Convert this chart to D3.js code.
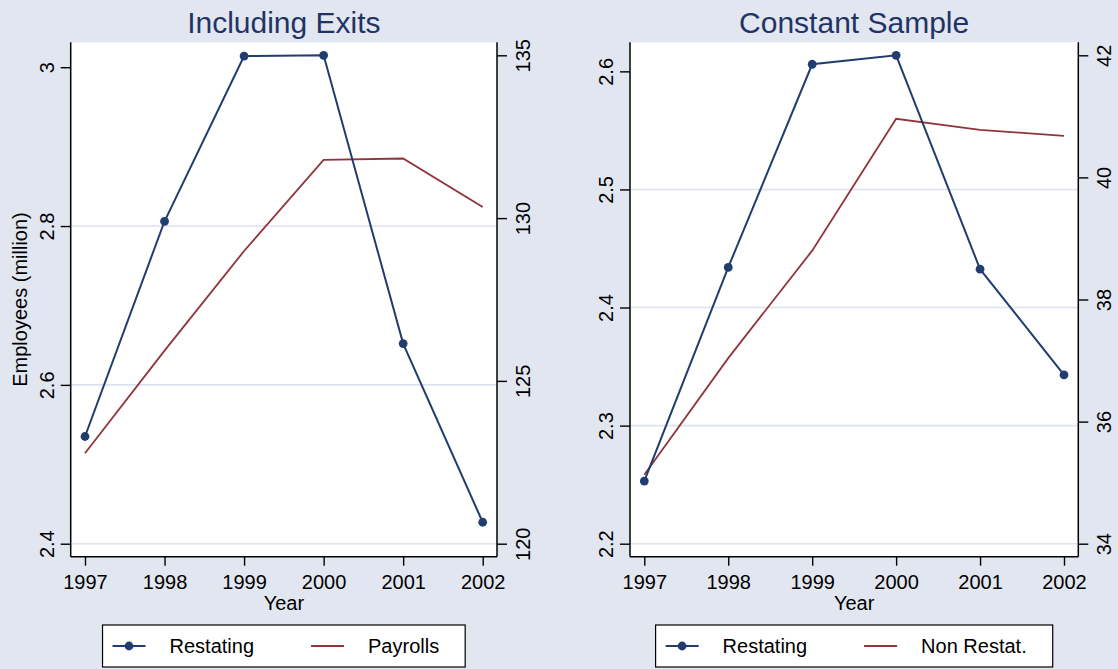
<!DOCTYPE html>
<html>
<head>
<meta charset="utf-8">
<script src="https://cdn.jsdelivr.net/npm/d3@7"></script>
<style>
  html, body { margin: 0; padding: 0; background: #e2e6f0; }
  svg { display: block; font-family: "Liberation Sans", Arial, Helvetica, sans-serif; }
</style>
</head>
<body>
<svg id="chart" width="1118" height="669"></svg>
<script>
// Years on the horizontal axis
const years = [1997, 1998, 1999, 2000, 2001, 2002];

// Panel 1: Including Exits
const exitsRestating = [2.535, 2.806, 3.014, 3.015, 2.652, 2.427];   // left axis, million
const payrolls       = [122.78, 125.93, 128.99, 131.79, 131.83, 130.34]; // right axis
const exitsLeftTicks  = [2.4, 2.6, 2.8, 3];
const exitsRightTicks = [120, 125, 130, 135];

// Panel 2: Constant Sample
const constRestating = [2.253, 2.434, 2.606, 2.6136, 2.4325, 2.343]; // left axis
const nonRestating   = [35.13, 37.04, 38.80, 40.96, 40.78, 40.68];    // right axis
const constLeftTicks  = [2.2, 2.3, 2.4, 2.5, 2.6];
const constRightTicks = [34, 36, 38, 40, 42];

const titles = ["Including Exits", "Constant Sample"];
const legendLabels = [["Restating", "Payrolls"], ["Restating", "Non Restat."]];
const xTitle = "Year";
const yTitle = "Employees (million)";

const NAVY = "#213d6e";
const MAROON = "#90353b";
const GRID = "#dde3ee";
const TITLE = "#1f3464";

const svg = d3.select("#chart");
svg.append("rect").attr("width", 1118).attr("height", 669).attr("fill", "#e2e6f0");

const panels = [
  { left: 70.7, right: 497, title: titles[0], y1: exitsRestating, y2: payrolls,
    t1: exitsLeftTicks, t2: exitsRightTicks, legend: legendLabels[0], ytitle: true },
  { left: 630, right: 1078.3, title: titles[1], y1: constRestating, y2: nonRestating,
    t1: constLeftTicks, t2: constRightTicks, legend: legendLabels[1], ytitle: false }
];

const plotTop = 42.3, plotBottom = 556.7, padY = 13, padX = 14.3;

panels.forEach(p => {
  const g = svg.append("g");
  const cx = (p.left + p.right) / 2;

  const x = d3.scaleLinear().domain(d3.extent(years)).range([p.left + padX, p.right - padX]);
  const y1 = d3.scaleLinear().domain(d3.extent(p.t1.concat(p.y1))).range([plotBottom - padY, plotTop + padY]);
  const y2 = d3.scaleLinear().domain(d3.extent(p.t2.concat(p.y2))).range([plotBottom - padY, plotTop + padY]);

  // plot region
  g.append("rect").attr("x", p.left).attr("y", plotTop)
    .attr("width", p.right - p.left).attr("height", plotBottom - plotTop).attr("fill", "#fff");

  // horizontal gridlines at the left-axis ticks (top tick left clean)
  g.selectAll(".grid").data(p.t1.slice(0, -1)).join("line")
    .attr("x1", p.left).attr("x2", p.right)
    .attr("y1", d => y1(d)).attr("y2", d => y1(d))
    .attr("stroke", GRID).attr("stroke-width", 1.6);

  // second series (right axis)
  const line2 = d3.line().x((d, i) => x(years[i])).y(d => y2(d));
  g.append("path").datum(p.y2).attr("d", line2)
    .attr("fill", "none").attr("stroke", MAROON).attr("stroke-width", 1.8);

  // restating series (left axis) with markers
  const line1 = d3.line().x((d, i) => x(years[i])).y(d => y1(d));
  g.append("path").datum(p.y1).attr("d", line1)
    .attr("fill", "none").attr("stroke", NAVY).attr("stroke-width", 2);
  g.selectAll(".dot").data(p.y1).join("circle")
    .attr("cx", (d, i) => x(years[i])).attr("cy", d => y1(d)).attr("r", 4.4)
    .attr("fill", NAVY);

  // axes
  const axisLeft = d3.axisLeft(y1).tickValues(p.t1).tickSize(10).tickFormat(d => String(d));
  const axisRight = d3.axisRight(y2).tickValues(p.t2).tickSize(10).tickFormat(d => String(d));
  const axisBottom = d3.axisBottom(x).tickValues(years).tickSize(9).tickFormat(d3.format("d"));

  const gl = g.append("g").attr("transform", `translate(${p.left},0)`).call(axisLeft);
  const gr = g.append("g").attr("transform", `translate(${p.right},0)`).call(axisRight);
  const gb = g.append("g").attr("transform", `translate(0,${plotBottom})`).call(axisBottom);

  [gl, gr, gb].forEach(a => {
    a.select(".domain").remove();
    a.selectAll(".tick line").attr("stroke", "#000").attr("stroke-width", 1.4);
    a.selectAll("text").attr("fill", "#000").style("font-size", "20px")
      .style("font-family", '"Liberation Sans", Arial, sans-serif');
  });

  // axis lines span the whole plot region
  g.append("line").attr("x1", p.left).attr("x2", p.left).attr("y1", plotTop).attr("y2", plotBottom)
    .attr("stroke", "#000").attr("stroke-width", 1.5);
  g.append("line").attr("x1", p.right).attr("x2", p.right).attr("y1", plotTop).attr("y2", plotBottom)
    .attr("stroke", "#000").attr("stroke-width", 1.5);
  g.append("line").attr("x1", p.left).attr("x2", p.right).attr("y1", plotBottom).attr("y2", plotBottom)
    .attr("stroke", "#000").attr("stroke-width", 1.5);

  // rotated y tick labels, reading upward
  gl.selectAll(".tick text")
    .attr("x", null).attr("dy", null).attr("text-anchor", "middle")
    .attr("transform", "translate(-16.7,0) rotate(-90)").attr("y", 0);
  gr.selectAll(".tick text")
    .attr("x", null).attr("dy", null).attr("text-anchor", "middle")
    .attr("transform", "translate(33,0) rotate(-90)").attr("y", 0);
  gb.selectAll(".tick text").attr("y", 32).attr("dy", null);

  // titles
  g.append("text").attr("x", cx).attr("y", 33).attr("text-anchor", "middle")
    .attr("fill", TITLE).style("font-size", "30px").text(p.title);
  g.append("text").attr("x", cx).attr("y", 610).attr("text-anchor", "middle")
    .attr("fill", "#000").style("font-size", "20px").text(xTitle);
  if (p.ytitle) {
    g.append("text").attr("transform", `translate(27,${(plotTop + plotBottom) / 2}) rotate(-90)`)
      .attr("text-anchor", "middle").attr("fill", "#000").style("font-size", "20px").text(yTitle);
  }

  // legend
  const lg = g.append("g");
  const box = lg.append("rect").attr("y", 625).attr("height", 42)
    .attr("fill", "#fff").attr("stroke", "#000").attr("stroke-width", 1.2);
  const t1 = lg.append("text").attr("y", 653).style("font-size", "20px").attr("fill", "#000").text(p.legend[0]);
  const t2 = lg.append("text").attr("y", 653).style("font-size", "20px").attr("fill", "#000").text(p.legend[1]);
  const w1 = t1.node().getComputedTextLength();
  const w2 = t2.node().getComputedTextLength();
  const padL = 10, key = 33, gap = 24, colGap = 57, padR = 26;
  const total = padL + key + gap + w1 + colGap + key + gap + w2 + padR;
  const bx = cx - total / 2;
  box.attr("x", bx).attr("width", total);
  const k1 = bx + padL;
  lg.append("line").attr("x1", k1).attr("x2", k1 + key).attr("y1", 646).attr("y2", 646)
    .attr("stroke", NAVY).attr("stroke-width", 2);
  lg.append("circle").attr("cx", k1 + key / 2).attr("cy", 646).attr("r", 4.4).attr("fill", NAVY);
  t1.attr("x", k1 + key + gap);
  const k2 = k1 + key + gap + w1 + colGap;
  lg.append("line").attr("x1", k2).attr("x2", k2 + key).attr("y1", 646).attr("y2", 646)
    .attr("stroke", MAROON).attr("stroke-width", 1.8);
  t2.attr("x", k2 + key + gap);
});
</script>
</body>
</html>
